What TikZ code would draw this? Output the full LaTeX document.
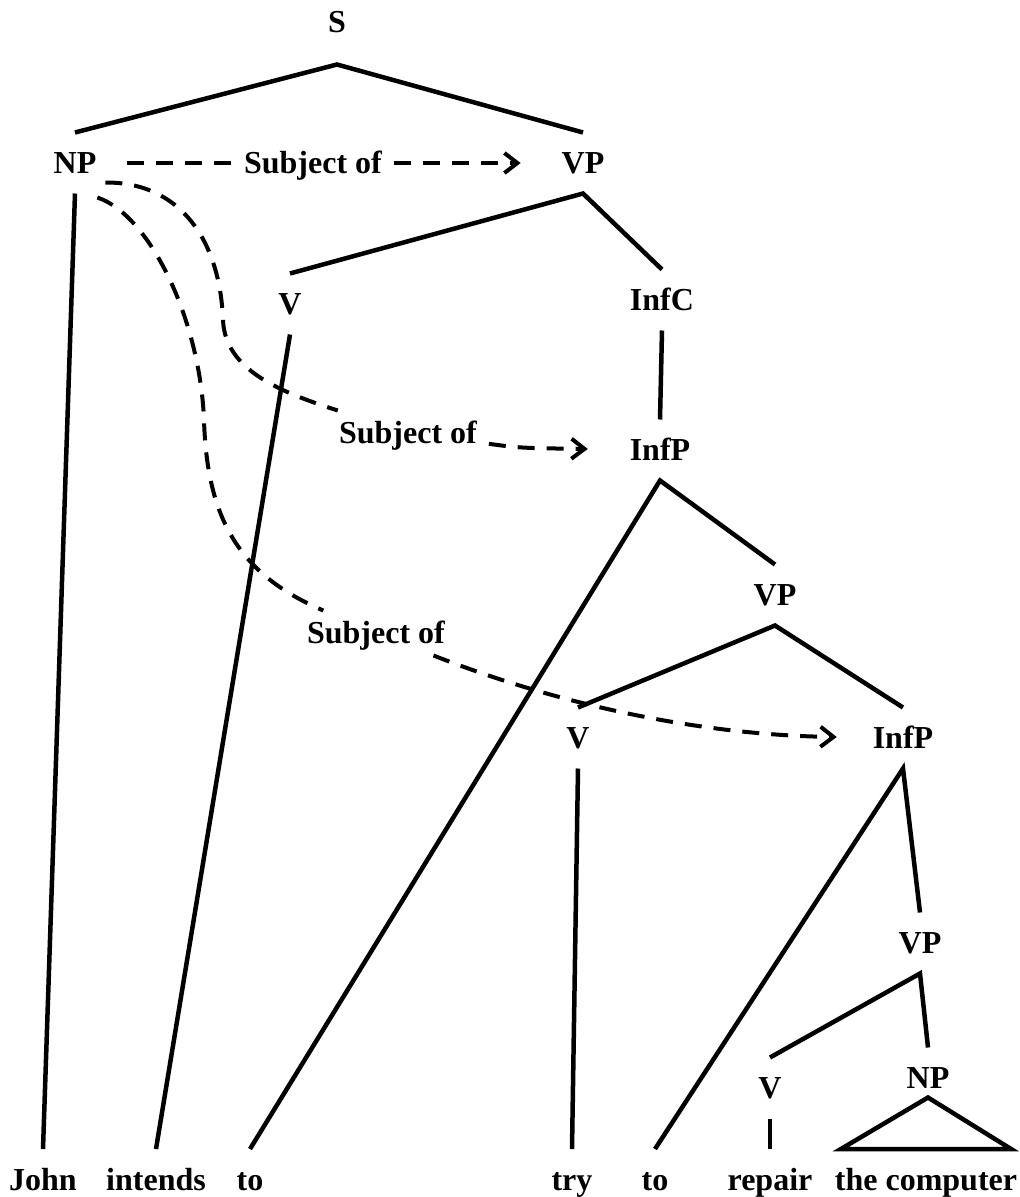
\documentclass[tikz,border=0pt]{standalone}
\usepackage{fontspec}
\setmainfont{Liberation Serif}
\usetikzlibrary{arrows.meta}
\tikzset{
  cat/.style={font=\fontsize{32}{38}\selectfont\bfseries, inner sep=0pt,
    outer xsep=0pt, outer ysep=20pt, text height=21pt, text depth=0pt},
  rel/.style={cat, outer sep=12pt},
  branch/.style={line width=4.5pt},
  subj/.style={line width=4pt, dash pattern=on 17pt off 12pt},
  tip/.style={-{Straight Barb[length=13pt,width=20pt]}}
}
\begin{document}
\begin{tikzpicture}[x=1pt,y=-1pt]
    \useasboundingbox (0,0) rectangle (1020,1197);

    % categories
    \node[cat,outer ysep=32pt] (S) at (337,22) {S};
    \node[cat] (NP1) at (75,163) {NP};
    \node[cat] (VP1) at (583,163) {VP};
    \node[cat] (V1) at (290,304) {V};
    \node[cat] (InfC) at (662,300) {InfC};
    \node[cat] (InfP1) at (660,450) {InfP};
    \node[cat] (VP2) at (775,595) {VP};
    \node[cat] (V2) at (578,738) {V};
    \node[cat] (InfP2) at (903,738) {InfP};
    \node[cat] (VP3) at (920,943) {VP};
    \node[cat] (V3) at (770,1088) {V};
    \node[cat] (NP2) at (928,1078) {NP};

    % words
    \node[cat] (john) at (43,1179.5) {John};
    \node[cat] (intends) at (156,1179.5) {intends};
    \node[cat] (to1) at (250,1179.5) {to};
    \node[cat] (try) at (572,1179.5) {try};
    \node[cat] (to2) at (655,1179.5) {to};
    \node[cat] (repair) at (770,1179.5) {repair};
    \node[cat] (computer) at (926,1179.5) {the computer};

    % relation labels
    \node[rel] (sub1) at (313,163) {Subject of};
    \node[rel] (sub2) at (408,433) {Subject of};
    \node[rel] (sub3) at (376,633) {Subject of};

    % tree
    \draw[branch] (NP1.north) -- (S.south) -- (VP1.north);
    \draw[branch] (NP1.south) -- (john.north);
    \draw[branch] (V1.north) -- (VP1.south) -- (InfC.north);
    \draw[branch] (V1.south) -- (intends.north);
    \draw[branch] (InfC.south) -- (InfP1.north);
    \draw[branch] (to1.north) -- (InfP1.south) -- (VP2.north);
    \draw[branch] (V2.north) -- (VP2.south) -- (InfP2.north);
    \draw[branch] (V2.south) -- (try.north);
    \draw[branch] (to2.north) -- (InfP2.south) -- (VP3.north);
    \draw[branch] (V3.north) -- (VP3.south) -- (NP2.north);
    \draw[branch] (V3.south) -- (repair.north);
    \draw[branch] ([yshift=11pt]NP2.south) -- ([xshift=6pt]computer.north west)
        -- ([xshift=-6pt]computer.north east) -- cycle;

    % subject relations
    \draw[subj,shorten <=31pt] (NP1) -- (sub1);
    \draw[subj,tip,shorten >=41pt] (sub1) -- (VP1);
    \draw[subj] ([xshift=9pt,yshift=11pt]NP1.south east) .. controls (180,182) and (220,240) .. (223,320)
        .. controls (225,370) and (280,392) .. (sub2);
    \draw[subj,tip,shorten >=42pt] (sub2) .. controls (520,448) .. (InfP1);
    \draw[subj] ([xshift=1pt,yshift=-4pt]NP1.south east) .. controls (150,215) and (200,320) .. (204,420)
        .. controls (207,520) and (240,575) .. (sub3);
    \draw[subj,tip,shorten >=36pt] (sub3) .. controls (560,705) and (700,735) .. (InfP2);
\end{tikzpicture}
\end{document}
